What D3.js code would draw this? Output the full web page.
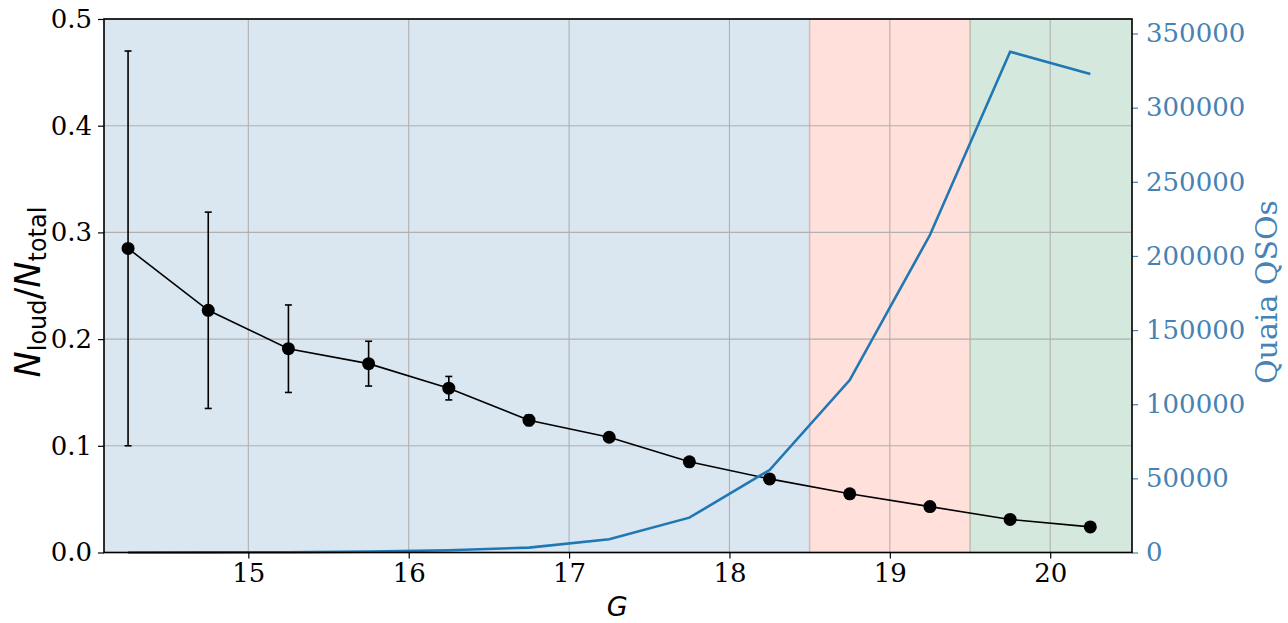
<!DOCTYPE html>
<html>
<head>
<meta charset="utf-8">
<script src="https://cdn.jsdelivr.net/npm/d3@7"></script>
<style>
  body { margin: 0; background: #fff; }
</style>
</head>
<body>
<div id="chart"></div>
<script>
// magnitude bins (G)
var gBins = [14.25, 14.75, 15.25, 15.75, 16.25, 16.75, 17.25, 17.75, 18.25, 18.75, 19.25, 19.75, 20.25];
// radio-loud fraction and its error
var fracLoud = [0.285, 0.227, 0.191, 0.177, 0.154, 0.124, 0.108, 0.085, 0.069, 0.055, 0.043, 0.031, 0.024];
var fracErr = [0.185, 0.092, 0.041, 0.021, 0.011, 0.005, 0.003, 0.002, 0.0015, 0.001, 0.001, 0.001, 0.001];
// number of Quaia QSOs per bin
var qsoCounts = [20, 60, 200, 600, 1500, 3300, 8900, 23500, 55600, 116300, 214100, 337700, 322700];

var xTicks = [15, 16, 17, 18, 19, 20];
var yTicks = [0, 0.1, 0.2, 0.3, 0.4, 0.5];
var y2Ticks = [0, 50000, 100000, 150000, 200000, 250000, 300000, 350000];

// shaded magnitude ranges
var spans = [
  {x0: 14.1, x1: 18.5, color: "steelblue"},
  {x0: 18.5, x1: 19.5, color: "tomato"},
  {x0: 19.5, x1: 20.51, color: "seagreen"}
];

var width = 1288, height = 623;
var pLeft = 104, pRight = 1132, pTop = 19, pBottom = 552.5;
var qsoBlue = "#4682b4";

var svg = d3.select("#chart").append("svg")
    .attr("width", width)
    .attr("height", height);

var x = d3.scaleLinear().domain([14.1, 20.51]).range([pLeft, pRight]);
var y = d3.scaleLinear().domain([0, 0.5]).range([pBottom, pTop]);
var y2 = d3.scaleLinear().domain([0, 359800]).range([pBottom, pTop]);

// shaded regions
svg.append("g").selectAll("rect")
    .data(spans)
    .enter().append("rect")
    .attr("x", function(d) { return x(d.x0); })
    .attr("y", pTop)
    .attr("width", function(d) { return x(d.x1) - x(d.x0); })
    .attr("height", pBottom - pTop)
    .attr("fill", function(d) { return d.color; })
    .attr("fill-opacity", 0.2)
    .attr("stroke", function(d) { return d.color; })
    .attr("stroke-opacity", 0.2)
    .attr("stroke-width", 1.5);

// grid
var grid = svg.append("g").attr("stroke", "#b0b0b0").attr("stroke-width", 1.1);
grid.selectAll(".gx")
    .data(xTicks)
    .enter().append("line")
    .attr("x1", function(d) { return x(d); })
    .attr("x2", function(d) { return x(d); })
    .attr("y1", pTop)
    .attr("y2", pBottom);
grid.selectAll(".gy")
    .data(yTicks)
    .enter().append("line")
    .attr("x1", pLeft)
    .attr("x2", pRight)
    .attr("y1", function(d) { return y(d); })
    .attr("y2", function(d) { return y(d); });

// error bars
var eb = svg.append("g").attr("stroke", "black").attr("stroke-width", 1.6);
gBins.forEach(function(g, i) {
  var lo = y(fracLoud[i] - fracErr[i]), hi = y(fracLoud[i] + fracErr[i]);
  eb.append("line").attr("x1", x(g)).attr("x2", x(g)).attr("y1", lo).attr("y2", hi);
  eb.append("line").attr("x1", x(g) - 3.5).attr("x2", x(g) + 3.5).attr("y1", lo).attr("y2", lo);
  eb.append("line").attr("x1", x(g) - 3.5).attr("x2", x(g) + 3.5).attr("y1", hi).attr("y2", hi);
});

// radio loud fraction line
var fracLine = d3.line()
    .x(function(d, i) { return x(gBins[i]); })
    .y(function(d) { return y(d); });

svg.append("path")
    .datum(fracLoud)
    .attr("d", fracLine)
    .attr("fill", "none")
    .attr("stroke", "black")
    .attr("stroke-width", 1.6);

svg.append("g").selectAll("circle")
    .data(fracLoud)
    .enter().append("circle")
    .attr("cx", function(d, i) { return x(gBins[i]); })
    .attr("cy", function(d) { return y(d); })
    .attr("r", 6.5)
    .attr("fill", "black");

// Quaia counts line
var qsoLine = d3.line()
    .x(function(d, i) { return x(gBins[i]); })
    .y(function(d) { return y2(d); });

svg.append("path")
    .datum(qsoCounts)
    .attr("d", qsoLine)
    .attr("fill", "none")
    .attr("stroke", "#1f77b4")
    .attr("stroke-width", 2.6);

// axes
var xAxis = svg.append("g")
    .attr("transform", "translate(0," + pBottom + ")")
    .call(d3.axisBottom(x).tickValues(xTicks).tickSize(6).tickPadding(5).tickFormat(d3.format("d")));
xAxis.select(".domain").remove();
xAxis.attr("font-size", 26).attr("font-family", "DejaVu Serif");
xAxis.selectAll("line").attr("stroke-width", 1.2);
xAxis.selectAll("text").attr("fill", "black");

var yAxis = svg.append("g")
    .attr("transform", "translate(" + pLeft + ",0)")
    .call(d3.axisLeft(y).tickValues(yTicks).tickSize(6).tickPadding(6).tickFormat(d3.format(".1f")));
yAxis.select(".domain").remove();
yAxis.attr("font-size", 26).attr("font-family", "DejaVu Serif");
yAxis.selectAll("line").attr("stroke-width", 1.2);
yAxis.selectAll("text").attr("fill", "black");

var y2Axis = svg.append("g")
    .attr("transform", "translate(" + pRight + ",0)")
    .call(d3.axisRight(y2).tickValues(y2Ticks).tickSize(6).tickPadding(8).tickFormat(d3.format("d")));
y2Axis.select(".domain").remove();
y2Axis.attr("font-size", 26).attr("font-family", "DejaVu Serif");
y2Axis.selectAll("line").attr("stroke", qsoBlue).attr("stroke-width", 1.2);
y2Axis.selectAll("text").attr("fill", qsoBlue);

// frame
svg.append("rect")
    .attr("x", pLeft)
    .attr("y", pTop)
    .attr("width", pRight - pLeft)
    .attr("height", pBottom - pTop)
    .attr("fill", "none")
    .attr("stroke", "black")
    .attr("stroke-width", 1.6);

// labels
svg.append("text")
    .attr("x", x(17.3))
    .attr("y", 616)
    .attr("text-anchor", "middle")
    .attr("font-family", "DejaVu Sans")
    .attr("font-style", "italic")
    .attr("font-size", 27)
    .text("G");

var yl = svg.append("text")
    .attr("transform", "translate(40,292) rotate(-90)")
    .attr("text-anchor", "middle")
    .attr("font-family", "DejaVu Sans")
    .attr("font-size", 35);
yl.append("tspan").attr("font-style", "italic").text("N");
yl.append("tspan").attr("font-size", 24).attr("dy", 6).text("loud");
yl.append("tspan").attr("dy", -6).text("/");
yl.append("tspan").attr("font-style", "italic").text("N");
yl.append("tspan").attr("font-size", 24).attr("dy", 6).text("total");

svg.append("text")
    .attr("transform", "translate(1277,292) rotate(-90)")
    .attr("text-anchor", "middle")
    .attr("font-family", "DejaVu Serif")
    .attr("font-size", 30)
    .attr("fill", qsoBlue)
    .text("Quaia QSOs");
</script>
</body>
</html>
